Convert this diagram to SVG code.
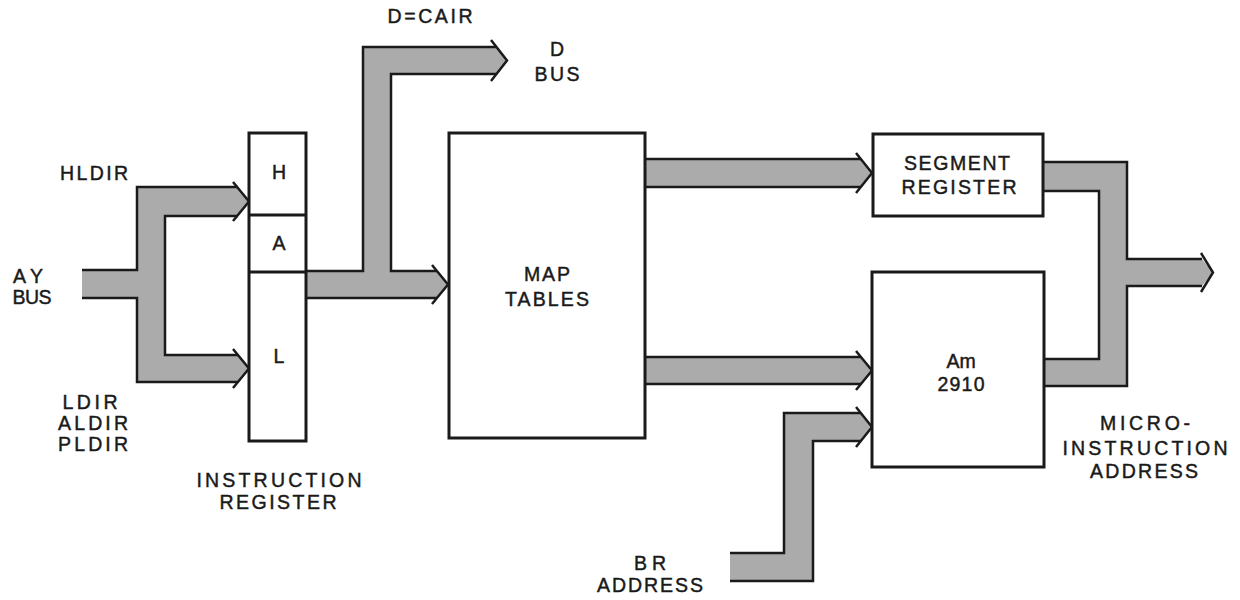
<svg xmlns="http://www.w3.org/2000/svg" width="1240" height="600" viewBox="0 0 1240 600">
<style>
.bg{fill:#ffffff}
.box{fill:#ffffff;stroke:#1a1a1a;stroke-width:3}
.bus{fill:#ababab;stroke:none}
.edge{fill:none;stroke:#1a1a1a;stroke-width:2.5;stroke-linejoin:miter}
.head{fill:none;stroke:#1a1a1a;stroke-width:2.5;stroke-linejoin:miter}
text{font-family:"Liberation Sans",Arial,sans-serif;font-size:19.5px;fill:#1a1a1a;stroke:#1a1a1a;stroke-width:0.45;text-anchor:middle}
</style>
<rect class="bg" x="0" y="0" width="1240" height="600"/>

<g id="connectors">
  <g id="ay-bus">
    <polygon class="bus" points="82,270 137,270 137,187 238,187 249,201.5 238,216 165,216 165,355 238,355 249,368.5 238,382 137,382 137,298 82,298"/>
    <path class="edge" d="M82,270 H137 V187 H238 M238,216 H165 V355 H238 M238,382 H137 V298 H82"/>
    <path class="head" d="M233,182 L249,201.5 L233,221 M233,349 L249,368.5 L233,388"/>
  </g>
  <g id="ir-bus">
    <polygon class="bus" points="306,271 363,271 363,47 496,47 507,60.5 496,74 391,74 391,271 437,271 448,284.5 437,298 306,298"/>
    <path class="edge" d="M306,271 H363 V47 H496 M496,74 H391 V271 H437 M306,298 H437"/>
    <path class="head" d="M491,40 L507,60.5 L491,81 M432,265 L448,284.5 L432,304"/>
  </g>
  <g id="map-seg-bus">
    <polygon class="bus" points="645,159 861,159 872,173 861,187 645,187"/>
    <path class="edge" d="M645,159 H861 M645,187 H861"/>
    <path class="head" d="M856,153 L872,173 L856,193"/>
  </g>
  <g id="map-am-bus">
    <polygon class="bus" points="645,357 861,357 872,370.5 861,384 645,384"/>
    <path class="edge" d="M645,357 H861 M645,384 H861"/>
    <path class="head" d="M856,351 L872,370.5 L856,390"/>
  </g>
  <g id="br-bus">
    <polygon class="bus" points="730,553 784,553 784,413 861,413 872,427 861,441 813,441 813,581 730,581"/>
    <path class="edge" d="M730,553 H784 V413 H861 M730,581 H813 V441 H861"/>
    <path class="head" d="M856,407 L872,427 L856,447"/>
  </g>
  <g id="out-bus">
    <polygon class="bus" points="1043,162 1127,162 1127,259 1202,259 1213,272.5 1202,286 1127,286 1127,386 1043,386 1043,359 1099,359 1099,191 1043,191"/>
    <path class="edge" d="M1043,162 H1127 V259 H1202 M1202,286 H1127 V386 H1043 M1043,191 H1099 V359 H1043"/>
    <path class="head" d="M1201,253 L1213,272.5 L1201,292"/>
  </g>
</g>

<g id="instruction-register">
  <rect class="box" x="249" y="133" width="57" height="308"/>
  <line x1="249" y1="215" x2="306" y2="215" stroke="#1a1a1a" stroke-width="3"/>
  <line x1="249" y1="272" x2="306" y2="272" stroke="#1a1a1a" stroke-width="3"/>
  <text x="279" y="179">H</text>
  <text x="279" y="250">A</text>
  <text x="279" y="363">L</text>
  <text x="279" y="487" textLength="165" lengthAdjust="spacing">INSTRUCTION</text>
  <text x="278" y="509" textLength="117" lengthAdjust="spacing">REGISTER</text>
</g>

<g id="map-tables">
  <rect class="box" x="449" y="133" width="196" height="305"/>
  <text x="547" y="281" textLength="46" lengthAdjust="spacing">MAP</text>
  <text x="547" y="306" textLength="84" lengthAdjust="spacing">TABLES</text>
</g>

<g id="segment-register">
  <rect class="box" x="873" y="134" width="170" height="82"/>
  <text x="957" y="170" textLength="106" lengthAdjust="spacing">SEGMENT</text>
  <text x="959" y="194" textLength="115" lengthAdjust="spacing">REGISTER</text>
</g>

<g id="am2910">
  <rect class="box" x="872" y="272" width="172" height="195"/>
  <text x="961" y="368">Am</text>
  <text x="961" y="391" textLength="47" lengthAdjust="spacing">2910</text>
</g>

<g id="labels">
  <text x="94" y="180" textLength="68" lengthAdjust="spacing">HLDIR</text>
  <text x="28" y="283" textLength="30" lengthAdjust="spacing">AY</text>
  <text x="32" y="304" textLength="39" lengthAdjust="spacing">BUS</text>
  <text x="90" y="409" textLength="55" lengthAdjust="spacing">LDIR</text>
  <text x="93" y="430" textLength="70" lengthAdjust="spacing">ALDIR</text>
  <text x="93" y="451" textLength="70" lengthAdjust="spacing">PLDIR</text>
  <text x="430" y="23" textLength="85" lengthAdjust="spacing">D=CAIR</text>
  <text x="557" y="56">D</text>
  <text x="557" y="81" textLength="45" lengthAdjust="spacing">BUS</text>
  <text x="1145" y="430" textLength="90" lengthAdjust="spacing">MICRO-</text>
  <text x="1145" y="455" textLength="165" lengthAdjust="spacing">INSTRUCTION</text>
  <text x="1144" y="478" textLength="108" lengthAdjust="spacing">ADDRESS</text>
  <text x="650" y="570" textLength="32" lengthAdjust="spacing">BR</text>
  <text x="650" y="592" textLength="106" lengthAdjust="spacing">ADDRESS</text>
</g>
</svg>
